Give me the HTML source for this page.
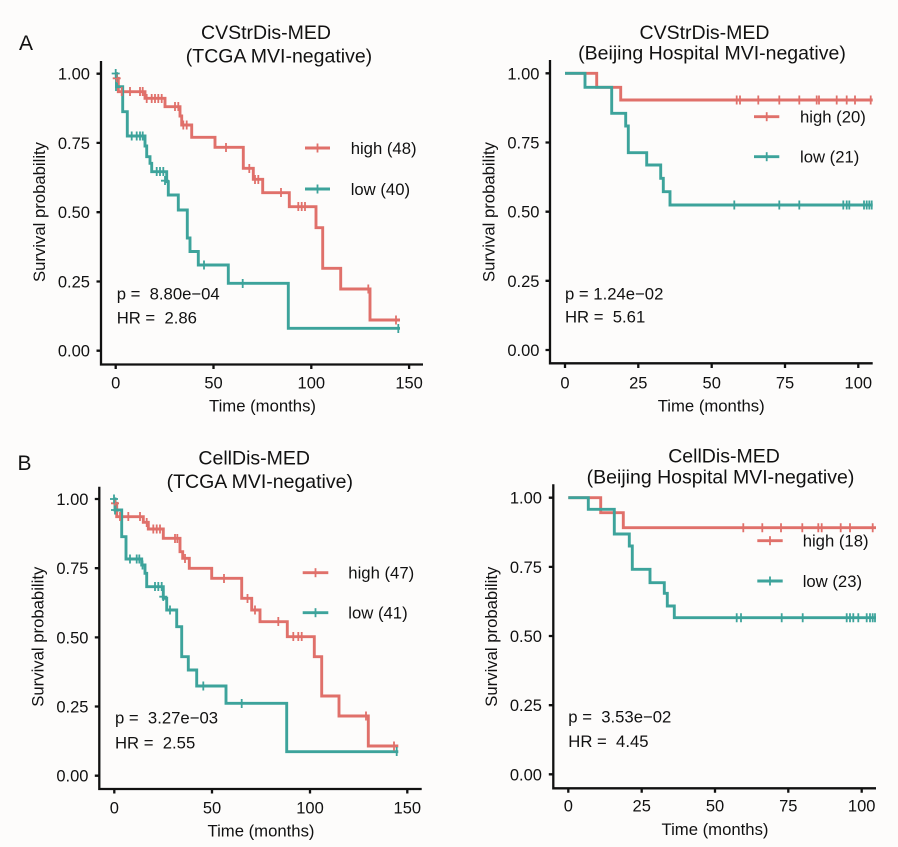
<!DOCTYPE html>
<html><head><meta charset="utf-8"><style>
html,body{margin:0;padding:0;background:#fdfcfb;}
svg{display:block;font-family:"Liberation Sans",Arial,sans-serif;}
text{fill:#111;white-space:pre;}
.tk{font-size:16.5px;}
.tl{font-size:19.5px;}
.lg{font-size:16.7px;}
.ax{stroke:#111;stroke-width:2.3;fill:none;}
.r{stroke:#E0706A;stroke-width:2.9;fill:none;}
.t{stroke:#3DA39B;stroke-width:2.9;fill:none;}
.rc{stroke:#E0706A;stroke-width:1.8;fill:none;}
.tc{stroke:#3DA39B;stroke-width:1.8;fill:none;}
</style></head><body>
<svg width="898" height="847" viewBox="0 0 898 847" xmlns="http://www.w3.org/2000/svg">
<rect width="898" height="847" fill="#fdfcfb"/>

<!-- Panel labels -->
<text x="19" y="50" style="font-size:21px">A</text>
<text x="17.5" y="470" style="font-size:21px">B</text>

<!-- ================= TL ================= -->
<text class="tl" x="266" y="39" text-anchor="middle">CVStrDis-MED</text>
<text class="tl" x="279" y="62.5" text-anchor="middle">(TCGA MVI-negative)</text>
<path class="ax" d="M101,61 V364.5 H423"/>
<path class="ax" d="M96.5,73.7H101M96.5,142.9H101M96.5,212.2H101M96.5,281.5H101M96.5,350.7H101M115.7,364.5V369M213.5,364.5V369M311.3,364.5V369M409.1,364.5V369"/>
<g class="tk" text-anchor="end">
<text x="90" y="79.7">1.00</text><text x="90" y="148.9">0.75</text><text x="90" y="218.2">0.50</text><text x="90" y="287.5">0.25</text><text x="90" y="356.7">0.00</text>
</g>
<g class="tk" text-anchor="middle">
<text x="115.7" y="388.5">0</text><text x="213.5" y="388.5">50</text><text x="311.3" y="388.5">100</text><text x="409.1" y="388.5">150</text>
</g>
<text class="lg" x="262.5" y="411.7" text-anchor="middle">Time (months)</text>
<text class="lg" transform="translate(45,212) rotate(-90)" text-anchor="middle">Survival probability</text>
<path class="r" d="M115.7,73.7 H116.5 V78.3 H118.3 V91.7 H145 V98.3 H165 V106.7 H180 V116 H181.7 V125 H191.7 V137.3 H215 V147.3 H243.3 V168.3 H253.3 V179.3 H262.7 V192.7 H289.3 V206.7 H316 V227.7 H322.7 V268.3 H340.7 V289 H370 V320 H400"/>
<path class="t" d="M115.7,73.7 H116.5 V86.7 H122.7 V111.7 H127.3 V136 H145 V146 H146.7 V156.7 H150 V163.3 H151.7 V171.7 H166.7 V181.7 H168.3 V195 H178.3 V210 H187.3 V238 H190 V251.5 H198.3 V265 H228.3 V283.3 H288.3 V328.3 H400"/>
<path class="rc" d="M116.7,74v9M121.7,87v9M130,87v9M140,87v9M142.7,87v9M146.7,94v9M151.7,94v9M155,94v9M158.3,94v9M161.7,94v9M175,102v9M178.3,102v9M183.3,120.5v9M186.7,120.5v9M226,143v9M249.3,164v9M255,175v9M258.3,175v9M281,188v9M298.3,202v9M301.7,202v9M305,202v9M368.3,284.5v9M396,315.5v9
M112.7,78.3h8"/>
<path class="tc" d="M115.7,69v9M111.7,73.5h8M116,82v9M131.7,131.5v9M136.7,131.5v9M140,131.5v9M142.7,131.5v9M156.7,167v9M160,167v9M163.3,167v9M165,176v9M161,180.7h8M204,260.5v9M242.7,279v9M398.3,324v9"/>
<!-- legend -->
<path class="r" d="M305,148H330"/><path class="rc" d="M317.5,143.5v9"/>
<path class="t" d="M305,189H330"/><path class="tc" d="M317.5,184.5v9"/>
<text class="lg" x="350.7" y="154">high (48)</text>
<text class="lg" x="350.7" y="195">low (40)</text>
<text class="lg" x="116.7" y="299.3">p =  8.80e−04</text>
<text class="lg" x="116.7" y="323.7">HR =  2.86</text>

<!-- ================= TR ================= -->
<text class="tl" x="704.5" y="39" text-anchor="middle">CVStrDis-MED</text>
<text class="tl" x="712" y="59.5" text-anchor="middle">(Beijing Hospital MVI-negative)</text>
<path class="ax" d="M550,60 V363.3 H872.7"/>
<path class="ax" d="M545.5,73.3H550M545.5,142.5H550M545.5,211.7H550M545.5,280.8H550M545.5,350H550M565,363.3V368M638.3,363.3V368M711.7,363.3V368M785,363.3V368M858.3,363.3V368"/>
<g class="tk" text-anchor="end">
<text x="539.5" y="79.3">1.00</text><text x="539.5" y="148.5">0.75</text><text x="539.5" y="217.7">0.50</text><text x="539.5" y="286.8">0.25</text><text x="539.5" y="356">0.00</text>
</g>
<g class="tk" text-anchor="middle">
<text x="565" y="388.5">0</text><text x="638.3" y="388.5">25</text><text x="711.7" y="388.5">50</text><text x="785" y="388.5">75</text><text x="858.3" y="388.5">100</text>
</g>
<text class="lg" x="711.2" y="411.7" text-anchor="middle">Time (months)</text>
<text class="lg" transform="translate(494.5,212) rotate(-90)" text-anchor="middle">Survival probability</text>
<path class="r" d="M565,73.3 H596.7 V87.3 H620.7 V100 H872.7"/>
<path class="t" d="M565,73.3 H585 V87.3 H611.7 V113.3 H625.7 V126 H628.3 V152.7 H646.7 V165 H660.7 V178.3 H663.3 V191.7 H670 V205 H872.7"/>
<path class="rc" d="M736.7,95.5v9M740,95.5v9M758.3,95.5v9M779.3,95.5v9M799.3,95.5v9M816.7,95.5v9M819,95.5v9M836.7,95.5v9M846.7,95.5v9M855,95.5v9M870.7,95.5v9"/>
<path class="tc" d="M734.3,200.5v9M779.3,200.5v9M799.3,200.5v9M843.3,200.5v9M846.7,200.5v9M849.3,200.5v9M864,200.5v9M866.7,200.5v9M869.3,200.5v9M871.7,200.5v9"/>
<path class="r" d="M754,116.7H779.3"/><path class="rc" d="M766.7,112.2v9"/>
<path class="t" d="M754,156.7H779.3"/><path class="tc" d="M766.7,152.2v9"/>
<text class="lg" x="800" y="122.7">high (20)</text>
<text class="lg" x="800" y="162.7">low (21)</text>
<text class="lg" x="565" y="299.3">p = 1.24e−02</text>
<text class="lg" x="565" y="322.7">HR =  5.61</text>

<!-- ================= BL ================= -->
<text class="tl" x="254.2" y="464.5" text-anchor="middle">CellDis-MED</text>
<text class="tl" x="259.8" y="488" text-anchor="middle">(TCGA MVI-negative)</text>
<path class="ax" d="M99.3,486.7 V789 H421.7"/>
<path class="ax" d="M94.8,499H99.3M94.8,568.2H99.3M94.8,637.4H99.3M94.8,706.5H99.3M94.8,775.7H99.3M114.3,789V793.5M212,789V793.5M310,789V793.5M407.3,789V793.5"/>
<g class="tk" text-anchor="end">
<text x="88.5" y="505">1.00</text><text x="88.5" y="574.2">0.75</text><text x="88.5" y="643.4">0.50</text><text x="88.5" y="712.5">0.25</text><text x="88.5" y="781.7">0.00</text>
</g>
<g class="tk" text-anchor="middle">
<text x="114.3" y="813.3">0</text><text x="212" y="813.3">50</text><text x="310" y="813.3">100</text><text x="407.3" y="813.3">150</text>
</g>
<text class="lg" x="261" y="836.7" text-anchor="middle">Time (months)</text>
<text class="lg" transform="translate(43.5,636.7) rotate(-90)" text-anchor="middle">Survival probability</text>
<path class="r" d="M114.3,499 H115 V503.3 H116.7 V516.7 H143.3 V522.3 H148.3 V529 H163.3 V538.3 H180 V551.7 H182.7 V558.3 H189.3 V568.3 H211.7 V578.3 H241.7 V598.3 H251.7 V610 H260 V621.7 H287.3 V636.7 H314.3 V656.7 H321.7 V696 H339 V716 H368.3 V746 H398.3"/>
<path class="t" d="M114.3,499 H115 V510 H121.7 V536.7 H126 V559 H141.7 V565 H145 V573.3 H146.7 V586.7 H163.3 V598.3 H166.7 V610 H176.7 V626.7 H181.7 V656.7 H188.3 V670 H196.7 V686 H226 V703.3 H286.7 V751.7 H398.3"/>
<path class="rc" d="M111,503.3h8M115,499v9M120,512v9M128.3,512v9M140,512v9M146.7,518v9M153.3,524.5v9M156.7,524.5v9M160,524.5v9M175,534v9M177.3,534v9M185,554v9M224,574v9M247.5,594v9M255,605.5v9M278.3,617v9M293.3,632v9M298.3,632v9M301.7,632v9M366,711.5v9M394,741.5v9"/>
<path class="tc" d="M114,494.5v9M110,499h8M115,505.5v9M111,510h8M130,554.5v9M136.7,554.5v9M139.3,554.5v9M142.5,560.5v9M155,582v9M158.3,582v9M161.7,582v9M163.3,592v9M159.3,596.7h8M170,605.5v9M203.3,681.5v9M241.7,699v9M396.7,747v9"/>
<path class="r" d="M302.7,572.7H328.3"/><path class="rc" d="M315.5,568.2v9"/>
<path class="t" d="M302.7,612.7H328.3"/><path class="tc" d="M315.5,608.2v9"/>
<text class="lg" x="348.3" y="578.7">high (47)</text>
<text class="lg" x="348.3" y="618.7">low (41)</text>
<text class="lg" x="115" y="723.7">p =  3.27e−03</text>
<text class="lg" x="115" y="748.3">HR =  2.55</text>

<!-- ================= BR ================= -->
<text class="tl" x="724" y="462.7" text-anchor="middle">CellDis-MED</text>
<text class="tl" x="720.5" y="483.3" text-anchor="middle">(Beijing Hospital MVI-negative)</text>
<path class="ax" d="M553.3,484.3 V788.3 H876"/>
<path class="ax" d="M548.8,497.7H553.3M548.8,566.9H553.3M548.8,636H553.3M548.8,705.2H553.3M548.8,774.3H553.3M568.3,788.3V792.8M641.7,788.3V792.8M715,788.3V792.8M788.3,788.3V792.8M861.7,788.3V792.8"/>
<g class="tk" text-anchor="end">
<text x="542" y="503.7">1.00</text><text x="542" y="572.9">0.75</text><text x="542" y="642">0.50</text><text x="542" y="711.2">0.25</text><text x="542" y="780.3">0.00</text>
</g>
<g class="tk" text-anchor="middle">
<text x="568.3" y="811.7">0</text><text x="641.7" y="811.7">25</text><text x="715" y="811.7">50</text><text x="788.3" y="811.7">75</text><text x="861.7" y="811.7">100</text>
</g>
<text class="lg" x="715" y="835" text-anchor="middle">Time (months)</text>
<text class="lg" transform="translate(497,636.7) rotate(-90)" text-anchor="middle">Survival probability</text>
<path class="r" d="M568.3,497.7 H600.7 V512.7 H623.3 V527.7 H876"/>
<path class="t" d="M568.3,497.7 H588.3 V509.3 H614.3 V534 H629.3 V546 H632.3 V569.3 H650 V582.7 H664.3 V593.3 H667.3 V606 H674.3 V617.7 H876"/>
<path class="rc" d="M743.3,523.2v9M762.3,523.2v9M781,523.2v9M802.3,523.2v9M818.3,523.2v9M821.7,523.2v9M840.7,523.2v9M850,523.2v9M872.7,523.2v9"/>
<path class="tc" d="M736.7,613.2v9M741,613.2v9M781.7,613.2v9M802.7,613.2v9M846.7,613.2v9M850,613.2v9M853.3,613.2v9M858.3,613.2v9M866.7,613.2v9M870,613.2v9M872.7,613.2v9M875,613.2v9"/>
<path class="r" d="M757.3,540.7H782.7"/><path class="rc" d="M770,536.2v9"/>
<path class="t" d="M757.3,581H782.7"/><path class="tc" d="M770,576.5v9"/>
<text class="lg" x="802.7" y="546.7">high (18)</text>
<text class="lg" x="802.7" y="587">low (23)</text>
<text class="lg" x="568.3" y="722.7">p =  3.53e−02</text>
<text class="lg" x="568.3" y="747">HR =  4.45</text>
</svg>
</body></html>
